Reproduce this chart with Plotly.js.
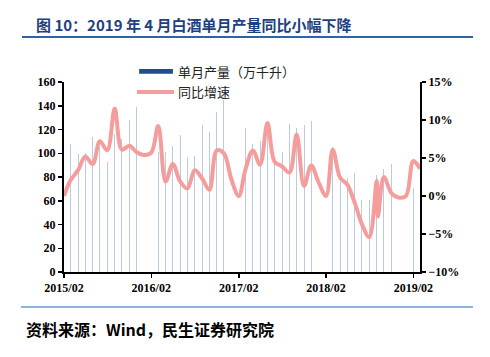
<!DOCTYPE html>
<html>
<head>
<meta charset="utf-8">
<script src="https://cdn.plot.ly/plotly-3.0.1.min.js"></script>
<style>
  html, body { margin: 0; padding: 0; background: #ffffff; }
  #chart { width: 490px; height: 357px; }
</style>
</head>
<body>
<div id="chart"></div>
<script>
// Months on the date axis (2015/02 .. 2019/03)
const months = [
  '2015-02','2015-03','2015-04','2015-05','2015-06','2015-07','2015-08','2015-09','2015-10','2015-11','2015-12',
  '2016-01','2016-02','2016-03','2016-04','2016-05','2016-06','2016-07','2016-08','2016-09','2016-10','2016-11','2016-12',
  '2017-01','2017-02','2017-03','2017-04','2017-05','2017-06','2017-07','2017-08','2017-09','2017-10','2017-11','2017-12',
  '2018-01','2018-02','2018-03','2018-04','2018-05','2018-06','2018-07','2018-08','2018-09','2018-10','2018-11','2018-12',
  '2019-01','2019-02','2019-03'
];

// 单月产量（万千升）
const output = [
  null, 108, 99, 100, 114, 106, 93, 116, 112, 128, 139,
  null, null, 101, 101, 106, 115, 97, 98, 124, 118, 135, 145,
  null, null, 121, 108, 110, 118, 95, 101, 125, 121, 124, 127,
  null, null, 105, 76, 79, 83, 61, 61, 82, 87, 91, null,
  null, 70.5, null
];

// 同比增速（%）
const yoyMonths = [
  '2015-02','2015-03','2015-04','2015-05','2015-06','2015-07','2015-08','2015-09','2015-10','2015-11','2015-12',
  '2016-01','2016-02','2016-03','2016-04','2016-05','2016-06','2016-07','2016-08','2016-09','2016-10','2016-11','2016-12',
  '2017-01','2017-02','2017-03','2017-04','2017-05','2017-06','2017-07','2017-08','2017-09','2017-10','2017-11','2017-12',
  '2018-01','2018-02','2018-03','2018-04','2018-05','2018-06','2018-07','2018-08','2018-09-01','2018-09-06','2018-10','2018-11','2018-12',
  '2019-01','2019-02','2019-03'
];
const yoy = [
  0.0, 2.1, 3.4, 5.2, 4.2, 7.2, 6.0, 11.5, 6.1, 6.6, 5.8,
  5.4, 5.7, 9.2, 1.9, 4.2, 1.9, 1.0, 3.4, 2.3, 0.8, 6.0, 5.6,
  2.2, 0.0, 3.5, 6.0, 4.1, 9.6, 4.5, 3.9, 3.1, 8.1, 1.3, 4.0, 1.8,
  0.0, 6.1, 2.4, 1.5, -0.9, -3.7, -5.4, 2.0, -2.7, 2.5, 0.4, -0.2,
  0.0, 4.6, 3.6
];

const xTicks = ['2015-02-01','2016-02-01','2017-02-01','2018-02-01','2019-02-01'];
const xTickText = ['2015/02','2016/02','2017/02','2018/02','2019/02'];

const titleText = '图 10：2019 年 4 月白酒单月产量同比小幅下降';
const sourceText = '资料来源：Wind，民生证券研究院';
const legendBar = '单月产量（万千升）';
const legendLine = '同比增速';

const numFont = { family: 'Liberation Serif, Times New Roman, serif', size: 12, color: '#000000', weight: 'bold' };
const cjk = 'Noto Sans CJK SC, Liberation Serif, serif';

const DAY = 86400000;

const traces = [
  {
    type: 'bar',
    x: months,
    y: output,
    width: months.map(() => 4.5 * DAY),
    marker: { color: '#bccbdb', line: { width: 0 } },
    yaxis: 'y',
    showlegend: false,
    hoverinfo: 'skip'
  },
  {
    type: 'scatter',
    mode: 'lines',
    x: yoyMonths,
    y: yoy,
    yaxis: 'y2',
    line: { color: '#f59d9d', width: 4, shape: 'spline', smoothing: 1 },
    showlegend: false,
    hoverinfo: 'skip'
  }
];

const axisCommon = {
  ticks: 'outside',
  ticklen: 4,
  tickwidth: 1.5,
  tickcolor: '#000',
  showline: true,
  linecolor: '#000',
  linewidth: 2,
  showgrid: false,
  zeroline: false,
  tickfont: numFont,
  fixedrange: true
};

const layout = {
  width: 490,
  height: 357,
  margin: { l: 64, r: 70, t: 82, b: 85, pad: 0 },
  paper_bgcolor: '#ffffff',
  plot_bgcolor: '#ffffff',
  showlegend: false,
  bargap: 0,
  xaxis: Object.assign({}, axisCommon, {
    type: 'date',
    range: ['2015-02-01', '2019-03-01'],
    tickmode: 'array',
    tickvals: xTicks,
    ticktext: xTickText
  }),
  yaxis: Object.assign({}, axisCommon, {
    range: [0, 160],
    dtick: 20,
    tick0: 0
  }),
  yaxis2: Object.assign({}, axisCommon, {
    overlaying: 'y',
    side: 'right',
    range: [-10, 15],
    dtick: 5,
    tick0: 0,
    ticksuffix: '%'
  }),
  shapes: [
    // title underline
    { type: 'line', xref: 'paper', yref: 'paper', x0: -0.118, x1: 1.149, y0: 1.237, y1: 1.237,
      line: { color: '#2c64a8', width: 2 } },
    // bottom rule
    { type: 'line', xref: 'paper', yref: 'paper', x0: -0.121, x1: 1.149, y0: -0.184, y1: -0.184,
      line: { color: '#6a9bd0', width: 1.5 } },
    // legend swatches
    { type: 'rect', xref: 'paper', yref: 'paper', x0: 0.211, x1: 0.306, y0: 1.043, y1: 1.069,
      fillcolor: '#1e4e8c', line: { width: 0 } },
    { type: 'line', xref: 'paper', yref: 'paper', x0: 0.205, x1: 0.309, y0: 0.948, y1: 0.948,
      line: { color: '#f59d9d', width: 4 } }
  ],
  annotations: [
    { text: titleText, xref: 'paper', yref: 'paper', x: -0.083, y: 1.30, xanchor: 'left', yanchor: 'middle',
      showarrow: false, font: { family: cjk, size: 15, color: '#1f3f7f', weight: 'bold' } },
    { text: sourceText, xref: 'paper', yref: 'paper', x: -0.112, y: -0.30, xanchor: 'left', yanchor: 'middle',
      showarrow: false, font: { family: cjk, size: 16, color: '#000000', weight: 'bold' } },
    { text: legendBar, xref: 'paper', yref: 'paper', x: 0.315, y: 1.056, xanchor: 'left', yanchor: 'middle',
      showarrow: false, font: { family: cjk, size: 13, color: '#222222' } },
    { text: legendLine, xref: 'paper', yref: 'paper', x: 0.315, y: 0.948, xanchor: 'left', yanchor: 'middle',
      showarrow: false, font: { family: cjk, size: 13, color: '#222222' } }
  ]
};

Plotly.newPlot('chart', traces, layout, { staticPlot: true, displayModeBar: false });
</script>
</body>
</html>
